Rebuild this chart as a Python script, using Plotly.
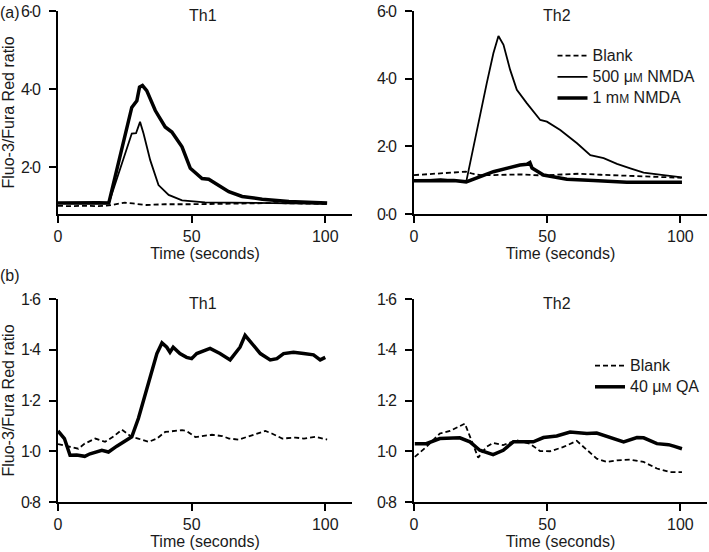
import plotly.graph_objects as go

# ---------------- data ----------------
# (a) Th1
t_a1_blank = [0, 5, 10, 15, 19, 22, 25, 28, 33, 40, 46, 50, 60, 70, 80, 90, 100.5]
v_a1_blank = [1.01, 1.00, 1.01, 1.00, 1.02, 1.06, 1.09, 1.07, 1.03, 1.05, 1.06, 1.05, 1.06, 1.07, 1.08, 1.07, 1.06]
t_a1_500 = [0, 5, 10, 15, 19, 27.6, 29.2, 30.7, 32, 34.5, 37.6, 41.4, 46.4, 55, 65, 75, 85, 95, 100.5]
v_a1_500 = [1.08, 1.07, 1.08, 1.07, 1.07, 2.86, 2.87, 3.16, 2.86, 2.18, 1.54, 1.29, 1.15, 1.10, 1.09, 1.08, 1.07, 1.07, 1.06]
t_a1_1m = [0, 5, 10, 15, 19, 27.6, 29.5, 30.5, 31.6, 33.2, 36.4, 40.1, 42.6, 46.4, 49.5, 53.9, 56.4, 60.1, 63.9, 68.9, 76.4, 86.4, 100.7]
v_a1_1m = [1.08, 1.09, 1.08, 1.09, 1.08, 3.53, 3.70, 4.05, 4.09, 3.96, 3.45, 3.03, 2.90, 2.52, 1.97, 1.71, 1.69, 1.54, 1.37, 1.25, 1.18, 1.12, 1.08]

# (a) Th2
t_a2_blank = [0, 5, 10, 15, 19.5, 22, 25, 30, 40, 48, 55, 62, 70, 80, 90, 100.5]
v_a2_blank = [1.15, 1.18, 1.21, 1.23, 1.25, 1.19, 1.15, 1.15, 1.17, 1.14, 1.17, 1.19, 1.16, 1.13, 1.10, 1.07]
t_a2_500 = [0, 5, 10, 15, 19.6, 27.3, 29.8, 31.7, 33.6, 36.1, 38.6, 42.4, 47.4, 49.9, 54.9, 61.2, 66.2, 71.2, 76.2, 81.2, 86.2, 93.7, 100.6]
v_a2_500 = [1.00, 1.00, 1.03, 1.00, 0.95, 3.86, 4.75, 5.26, 5.00, 4.26, 3.67, 3.27, 2.78, 2.73, 2.48, 2.09, 1.74, 1.65, 1.48, 1.35, 1.22, 1.15, 1.08]
t_a2_1m = [0, 5, 10, 15, 19.6, 29.8, 39.8, 42.4, 43.5, 44.3, 48.6, 57.4, 67.4, 79.9, 90, 100.6]
v_a2_1m = [0.98, 0.98, 1.00, 0.99, 0.95, 1.25, 1.45, 1.47, 1.52, 1.36, 1.15, 1.03, 0.99, 0.94, 0.94, 0.94]

# (b) Th1
t_b1_blank = [0, 3, 7.6, 10, 13.9, 17.6, 21, 23.9, 27.6, 30, 33.9, 37, 40.1, 46.4, 48, 51.4, 54, 57.6, 61.4, 64, 67.6, 72, 77.6, 80, 83.9, 88.9, 92, 96.4, 100.7]
v_b1_blank = [1.028, 1.02, 1.01, 1.03, 1.05, 1.037, 1.06, 1.085, 1.056, 1.05, 1.037, 1.05, 1.076, 1.083, 1.08, 1.056, 1.06, 1.065, 1.06, 1.05, 1.046, 1.06, 1.08, 1.07, 1.05, 1.054, 1.05, 1.057, 1.046]
t_b1_qa = [0, 2.4, 4.5, 7, 10, 12, 16.4, 18.9, 22, 27.6, 30.1, 32.6, 35.1, 37, 38.9, 40.7, 41.9, 43.1, 45.6, 48.1, 50, 51.9, 56.9, 60.6, 64.4, 68.1, 70, 73.2, 75.7, 79.4, 81.9, 84.4, 88.1, 91.9, 95.6, 98.1, 100]
v_b1_qa = [1.08, 1.05, 0.984, 0.985, 0.98, 0.99, 1.004, 0.997, 1.02, 1.057, 1.13, 1.22, 1.32, 1.385, 1.427, 1.41, 1.39, 1.41, 1.385, 1.37, 1.365, 1.385, 1.405, 1.385, 1.36, 1.41, 1.457, 1.415, 1.385, 1.36, 1.365, 1.385, 1.39, 1.385, 1.38, 1.36, 1.37]

# (b) Th2
t_b2_blank = [0.3, 4.6, 9.7, 13.5, 19.1, 21, 24.1, 27.2, 29.7, 33.5, 38.5, 43.5, 47.3, 51.1, 56.1, 61.1, 64.9, 68.6, 72.4, 76.2, 81.2, 86.2, 91.2, 96.2, 100.6]
v_b2_blank = [0.978, 1.017, 1.07, 1.08, 1.109, 1.056, 0.975, 1.017, 1.033, 1.024, 1.043, 1.03, 1.001, 1.0, 1.017, 1.041, 1.004, 0.971, 0.958, 0.964, 0.967, 0.958, 0.932, 0.918, 0.918]
t_b2_qa = [0.3, 4.6, 9.7, 13, 17.2, 21, 24.7, 29.7, 33.5, 37.3, 41, 44.8, 48.6, 53.6, 58.6, 64.9, 68.6, 73.6, 78.7, 83.7, 86.2, 91.2, 95.6, 97.5, 100.6]
v_b2_qa = [1.03, 1.03, 1.05, 1.05, 1.053, 1.037, 1.004, 0.987, 1.004, 1.037, 1.037, 1.037, 1.054, 1.06, 1.076, 1.07, 1.072, 1.056, 1.037, 1.054, 1.053, 1.03, 1.026, 1.02, 1.01]

x_ticks = [0, 50, 100]
x_ticktext = ["0", "50", "100"]
ya_ticks = [0, 2, 4, 6]
ya_ticklabels = [("0", "0"), ("2", "0"), ("4", "0"), ("6", "0")]
yb_ticks = [0.8, 1.0, 1.2, 1.4, 1.6]
yb_ticklabels = [("0", "8"), ("1", "0"), ("1", "2"), ("1", "4"), ("1", "6")]

lbl_blank = "Blank"
lbl_500 = "500 μ<span style='font-size:12px'>M</span> NMDA"
lbl_1m = "1 m<span style='font-size:12px'>M</span> NMDA"
lbl_qa = "40 μ<span style='font-size:12px'>M</span> QA"


def dot_label(a, b):
    # decimal written with a raised (middle) dot, set tight as in the original
    return "<span style='letter-spacing:-1.7px'>" + a + "·</span>" + b


ya_ticktext = [dot_label(a, b) for a, b in ya_ticklabels]
yb_ticktext = [dot_label(a, b) for a, b in yb_ticklabels]


def legend_label(s):
    return "<span style='font-size:16px'>" + s + "</span>"


# ---------------- figure ----------------
FONT = "Liberation Sans, Arial, Helvetica, sans-serif"
TXT = "#1a1a1a"
W, H = 709, 552


def px_x(p):
    return p / W


def px_y(p):
    return 1 - p / H


fig = go.Figure()

thin = dict(color="black", width=1.8)
thick = dict(color="black", width=3.5)
dashed = dict(color="black", width=1.8, dash="5px,3px")


def add(t, v, line, name, xa, ya, show, legend="legend"):
    fig.add_trace(go.Scatter(x=t, y=v, mode="lines", line=line, name=legend_label(name),
                             xaxis=xa, yaxis=ya, showlegend=show, legend=legend))


add(t_a1_blank, v_a1_blank, dashed, lbl_blank, "x", "y", False)
add(t_a1_500, v_a1_500, thin, lbl_500, "x", "y", False)
add(t_a1_1m, v_a1_1m, thick, lbl_1m, "x", "y", False)

add(t_a2_blank, v_a2_blank, dashed, lbl_blank, "x2", "y2", True)
add(t_a2_500, v_a2_500, thin, lbl_500, "x2", "y2", True)
add(t_a2_1m, v_a2_1m, thick, lbl_1m, "x2", "y2", True)

add(t_b1_blank, v_b1_blank, dashed, lbl_blank, "x3", "y3", False, "legend2")
add(t_b1_qa, v_b1_qa, thick, lbl_qa, "x3", "y3", False, "legend2")

add(t_b2_blank, v_b2_blank, dashed, lbl_blank, "x4", "y4", True, "legend2")
add(t_b2_qa, v_b2_qa, thick, lbl_qa, "x4", "y4", True, "legend2")

axis_common = dict(showline=True, linecolor="black", linewidth=2, ticks="outside",
                   ticklen=7, tickwidth=2, tickcolor="black", showgrid=False,
                   zeroline=False, automargin=False,
                   tickfont=dict(size=16, family=FONT, color=TXT))

xdom_l = [px_x(58), px_x(352)]
xdom_r = [px_x(414), px_x(707)]
ydom_t = [px_y(214), px_y(11)]
ydom_b = [px_y(502), px_y(299)]


def xaxis(dom, anchor):
    return dict(axis_common, domain=dom, anchor=anchor, range=[0, 110],
                tickvals=x_ticks, ticktext=x_ticktext,
                title=dict(text="Time (seconds)", standoff=4,
                           font=dict(size=16, family=FONT, color=TXT)))


def yaxis(dom, anchor, rng, tv, tt, title):
    d = dict(axis_common, domain=dom, anchor=anchor, range=rng,
             tickvals=tv, ticktext=tt, ticklabelstandoff=5)
    if title:
        d["title"] = dict(text="Fluo-3/Fura Red ratio", standoff=4,
                          font=dict(size=16, family=FONT, color=TXT))
    return d


leg_font = dict(size=14, family=FONT, color=TXT)

fig.update_layout(
    template="none",
    width=W, height=H,
    margin=dict(l=0, r=0, t=0, b=0, autoexpand=False),
    plot_bgcolor="white", paper_bgcolor="white",
    font=dict(family=FONT, size=16, color=TXT),
    xaxis=xaxis(xdom_l, "y"),
    yaxis=yaxis(ydom_t, "x", [0.8, 6.0], ya_ticks, ya_ticktext, True),
    xaxis2=xaxis(xdom_r, "y2"),
    yaxis2=yaxis(ydom_t, "x2", [0, 6.0], ya_ticks, ya_ticktext, False),
    xaxis3=xaxis(xdom_l, "y3"),
    yaxis3=yaxis(ydom_b, "x3", [0.8, 1.6], yb_ticks, yb_ticktext, True),
    xaxis4=xaxis(xdom_r, "y4"),
    yaxis4=yaxis(ydom_b, "x4", [0.8, 1.6], yb_ticks, yb_ticktext, False),
    legend=dict(x=px_x(552.5), y=px_y(40), xanchor="left", yanchor="top",
                bgcolor="rgba(0,0,0,0)", font=leg_font,
                traceorder="normal", itemwidth=30, borderwidth=0),
    legend2=dict(x=px_x(590), y=px_y(350), xanchor="left", yanchor="top",
                 bgcolor="rgba(0,0,0,0)", font=leg_font,
                 traceorder="normal", itemwidth=30, borderwidth=0),
    showlegend=True,
)

ann_font = dict(size=16, family=FONT, color=TXT)
annotations = [
    dict(text="(a)", x=0, y=px_y(13), xref="paper", yref="paper", xanchor="left", yanchor="middle", showarrow=False, font=ann_font, borderpad=0, xshift=-1),
    dict(text="(b)", x=0, y=px_y(275), xref="paper", yref="paper", xanchor="left", yanchor="middle", showarrow=False, font=ann_font, borderpad=0, xshift=-1),
    dict(text="Th1", x=px_x(203), y=px_y(15), xref="paper", yref="paper", xanchor="center", yanchor="middle", showarrow=False, font=ann_font),
    dict(text="Th2", x=px_x(557), y=px_y(15), xref="paper", yref="paper", xanchor="center", yanchor="middle", showarrow=False, font=ann_font),
    dict(text="Th1", x=px_x(203), y=px_y(303), xref="paper", yref="paper", xanchor="center", yanchor="middle", showarrow=False, font=ann_font),
    dict(text="Th2", x=px_x(557), y=px_y(303), xref="paper", yref="paper", xanchor="center", yanchor="middle", showarrow=False, font=ann_font),
]
fig.update_layout(annotations=annotations)

fig.write_html("out.html", config={"displayModeBar": False},
               post_script="document.body.style.margin='0';")
